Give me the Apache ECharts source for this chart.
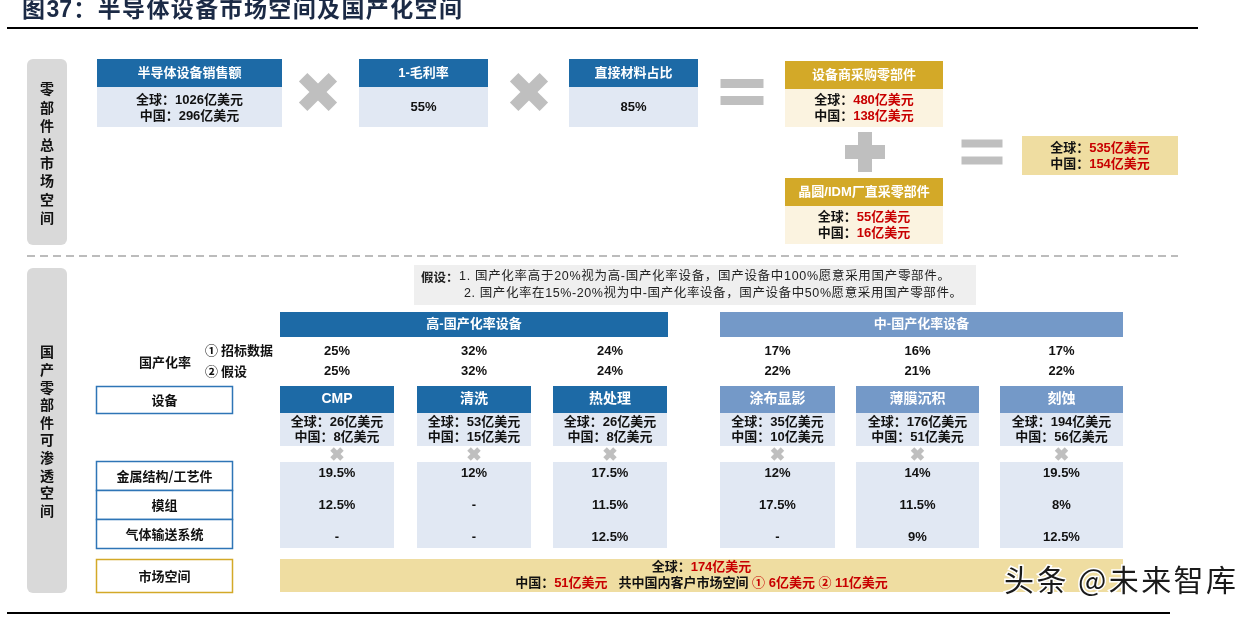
<!DOCTYPE html>
<html><head><meta charset="utf-8">
<script src="https://cdn.jsdelivr.net/npm/echarts@6/dist/echarts.min.js"></script>
<style>html,body{margin:0;padding:0;background:#fff}#c{width:1254px;height:617px}</style>
</head><body><div id="c"></div>
<script>
// ---------- DATA ----------
const titleTokens = ['图', '37', '：', '半', '导', '体', '设', '备', '市', '场', '空', '间', '及', '国', '产', '化', '空', '间'];
const sideLabels = ['零部件总市场空间', '国产零部件可渗透空间'];
const inputTitles = ['半导体设备销售额', '1-毛利率', '直接材料占比'];
const salesGlobal = 1026, salesChina = 296;
const marginComplement = 55, materialShare = 85;
const partsTitles = ['设备商采购零部件', '晶圆/IDM厂直采零部件'];
const partsGlobal = [480, 55];
const partsChina = [138, 16];
const totalGlobal = 535, totalChina = 154;
const assumptionLines = ['1. 国产化率高于20%视为高-国产化率设备，国产设备中100%愿意采用国产零部件。',
                         '2. 国产化率在15%-20%视为中-国产化率设备，国产设备中50%愿意采用国产零部件。'];
const groupNames = ['高-国产化率设备', '中-国产化率设备'];
const equipment = ['CMP', '清洗', '热处理', '涂布显影', '薄膜沉积', '刻蚀'];
const equipGroup = [0, 0, 0, 1, 1, 1];
const equipGlobal = [26, 53, 26, 35, 176, 194];
const equipChina = [8, 15, 8, 10, 51, 56];
const rateBid = [25, 32, 24, 17, 16, 17];
const rateAssumed = [25, 32, 24, 22, 21, 22];
const partRows = ['金属结构/工艺件', '模组', '气体输送系统'];
const metalShare = [19.5, 12, 17.5, 12, 14, 19.5];
const moduleShare = [12.5, null, 11.5, 17.5, 11.5, 8];
const gasShare = [null, null, 12.5, null, 9, 12.5];
const marketGlobal = 174, marketChina = 51, domesticBid = 6, domesticAssumed = 11;
const watermarkTokens = ['头', '条', ' ', '@', '未', '来', '智', '库'];

// ---------- STYLE / LAYOUT ----------
const C = {
  blue: '#1D6AA6', midBlue: '#7499C8', lightBlue: '#E1E8F3', border: '#2E75B6',
  gold: '#D3A928', goldLight: '#FBF3E0', goldRes: '#EFDDA1', grey: '#BFBFBF',
  side: '#D9D9D9', red: '#C80000', ink: '#111111'
};
const NUMF = '"Liberation Sans", Arial, "Noto Sans CJK SC", sans-serif';
const CJKF = '"Noto Sans CJK SC", sans-serif';
const el = [];
const mctx = document.createElement('canvas').getContext('2d');
function rect(x, y, w, h, fill, stroke, lw, r) {
  el.push({type: 'rect', silent: true, shape: {x: x, y: y, width: w, height: h, r: r || 0},
    style: {fill: fill || 'none', stroke: stroke || null, lineWidth: lw || 0}});
}
function txt(x, y, text, o) {
  el.push({type: 'text', silent: true, x: x, y: y, style: Object.assign({
    text: text, fill: C.ink, fontSize: 13, fontWeight: 'bold', fontFamily: NUMF,
    align: 'center', verticalAlign: 'middle'}, o || {})});
}
// tokens spread evenly over a target width (letter-spaced like the source)
function spaced(x, y, tokens, targetW, o) {
  const size = o.fontSize, weight = o.fontWeight || 'normal', fam = o.fontFamily || NUMF;
  mctx.font = weight + ' ' + size + 'px ' + fam;
  const toks = typeof tokens === 'string' ? Array.from(tokens) : tokens;
  const ws = toks.map(c => mctx.measureText(c).width);
  const total = ws.reduce((a, b) => a + b, 0);
  const sp = (targetW - total) / (toks.length - 1);
  let cx = x;
  toks.forEach(function (c, i) {
    txt(cx, y, c, Object.assign({}, o, {align: 'left'}));
    cx += ws[i] + sp;
  });
}
function rich(x, y, text, o) {
  const base = {fontSize: 13, fontWeight: 'bold', fontFamily: NUMF};
  txt(x, y, text, Object.assign({rich: {
    k: Object.assign({fill: C.ink}, base),
    r: Object.assign({fill: C.red}, base)}}, o || {}));
}
function line(x1, y1, x2, y2, color, lw, dash) {
  el.push({type: 'line', silent: true, shape: {x1: x1, y1: y1, x2: x2, y2: y2},
    style: {stroke: color, lineWidth: lw, lineDash: dash || null}});
}
function cross(cx, cy, L, t) {
  [Math.PI / 4, -Math.PI / 4].forEach(function (a) {
    el.push({type: 'rect', silent: true, x: cx, y: cy, rotation: a,
      shape: {x: -L / 2, y: -t / 2, width: L, height: t}, style: {fill: C.grey}});
  });
}
function equals(cx, cy, w, t, gap) {
  rect(cx - w / 2, cy - gap / 2 - t, w, t, C.grey);
  rect(cx - w / 2, cy + gap / 2, w, t, C.grey);
}
function plus(cx, cy, L, t) {
  rect(cx - L / 2, cy - t / 2, L, t, C.grey);
  rect(cx - t / 2, cy - L / 2, t, L, C.grey);
}
const pct = v => (v === null ? '-' : v + '%');

// title + rules
spaced(22, 11, titleTokens, 440, {fontSize: 23, fontWeight: 'bold', fill: '#1B2A45', fontFamily: '"Liberation Sans","Noto Sans CJK SC",sans-serif'});
line(7, 28, 1198, 28, '#000', 2);
line(7, 613, 1170, 613, '#000', 2);
line(27, 256, 1178, 256, '#A6A6A6', 1.5, [8, 5]);

// side panels
const sidePanels = [{y: 59, h: 186, y0: 89, step: 18.4}, {y: 268, h: 325, y0: 352, step: 17.6}];
sidePanels.forEach(function (p, i) {
  rect(27, p.y, 40, p.h, C.side, null, 0, 6);
  Array.from(sideLabels[i]).forEach(function (ch, j) {
    txt(47, p.y0 + j * p.step, ch, {fontSize: 14, fontFamily: CJKF});
  });
});

// formula inputs
const inBoxes = [{x: 97, w: 185}, {x: 359, w: 129}, {x: 569, w: 129}];
const inBody = [[`全球：${salesGlobal}亿美元`, `中国：${salesChina}亿美元`], [`${marginComplement}%`], [`${materialShare}%`]];
inBoxes.forEach(function (b, i) {
  rect(b.x, 59, b.w, 28, C.blue);
  rect(b.x, 87, b.w, 40, C.lightBlue);
  txt(b.x + b.w / 2, 73, inputTitles[i], {fill: '#fff'});
  const lines = inBody[i];
  if (lines.length === 2) {
    txt(b.x + b.w / 2, 100, lines[0]);
    txt(b.x + b.w / 2, 116, lines[1]);
  } else {
    txt(b.x + b.w / 2, 107, lines[0]);
  }
});
cross(318, 92, 42, 12);
cross(529, 92, 42, 12);
equals(742, 92, 43, 9, 8);

// parts boxes
const partsY = [61, 178];
partsTitles.forEach(function (t, i) {
  const y = partsY[i];
  rect(785, y, 158, 28, C.gold);
  rect(785, y + 28, 158, 38, C.goldLight);
  txt(864, y + 14, t, {fill: '#fff'});
  rich(864, y + 39, `{k|全球：}{r|${partsGlobal[i]}亿美元}`);
  rich(864, y + 55, `{k|中国：}{r|${partsChina[i]}亿美元}`);
});
plus(865, 152, 40, 14);
equals(982, 152, 41, 8, 9);
rect(1022, 136, 156, 39, C.goldRes);
rich(1100, 148, `{k|全球：}{r|${totalGlobal}亿美元}`);
rich(1100, 164, `{k|中国：}{r|${totalChina}亿美元}`);

// assumptions
rect(414, 265, 562, 40, '#EFEFEF');
const asmFont = {fontSize: 12.5, fontWeight: 'normal', fill: '#222', fontFamily: '"Liberation Sans","Noto Sans CJK SC",sans-serif'};
txt(421, 277, '假设：', {align: 'left', fontSize: 12.5, fill: '#222', fontFamily: CJKF});
spaced(459, 277, assumptionLines[0], 491, asmFont);
spaced(464, 294, assumptionLines[1], 498, asmFont);

// table layout
const colX = [280, 417, 553, 720, 856, 1000];
const colW = [114, 114, 114, 115, 123, 123];
const groupSpan = [[280, 668], [720, 1123]];
const groupColor = [C.blue, C.midBlue];
groupNames.forEach(function (g, i) {
  const s = groupSpan[i];
  rect(s[0], 312, s[1] - s[0], 25, groupColor[i]);
  txt((s[0] + s[1]) / 2, 324.5, g, {fill: '#fff'});
});
txt(165, 362, '国产化率', {fontFamily: CJKF});
txt(205, 350, '① 招标数据', {align: 'left', fontFamily: CJKF});
txt(205, 371, '② 假设', {align: 'left', fontFamily: CJKF});

// label boxes
rect(96.5, 386.5, 136, 27, '#fff', C.border, 1.5);
txt(164.5, 400, '设备', {fontFamily: CJKF});
partRows.forEach(function (r, i) {
  const y = 461.5 + i * 29;
  rect(96.5, y, 136, 29, '#fff', C.border, 1.5);
  txt(164.5, y + 14.5, r, {fontFamily: CJKF});
});
rect(96.5, 559.5, 136, 33, '#fff', C.gold, 1.5);
txt(164.5, 576, '市场空间', {fontFamily: CJKF});

const shareRows = [metalShare, moduleShare, gasShare];
equipment.forEach(function (name, i) {
  const x = colX[i], w = colW[i], cx = x + w / 2;
  txt(cx, 351, pct(rateBid[i]));
  txt(cx, 371, pct(rateAssumed[i]));
  rect(x, 386, w, 27, groupColor[equipGroup[i]]);
  txt(cx, 399.5, name, {fill: '#fff', fontSize: 14});
  rect(x, 413, w, 33, C.lightBlue);
  txt(cx, 422, `全球：${equipGlobal[i]}亿美元`);
  txt(cx, 437, `中国：${equipChina[i]}亿美元`);
  cross(cx, 454, 14, 5);
  rect(x, 462, w, 86, C.lightBlue);
  shareRows.forEach(function (row, j) {
    txt(cx, 473 + j * 32, pct(row[i]));
  });
});

// market bar
rect(280, 559, 843, 33, C.goldRes);
rich(701.5, 567, `{k|全球：}{r|${marketGlobal}亿美元}`);
rich(701.5, 583, `{k|中国：}{r|${marketChina}亿美元}{k|   共中国内客户市场空间 }{r|① ${domesticBid}亿美元 ② ${domesticAssumed}亿美元}`);

// watermark
spaced(1004, 580, watermarkTokens, 232, {fontSize: 30, fontWeight: 'normal', fill: '#1a1a1a',
  stroke: '#fff', lineWidth: 3, fontFamily: CJKF});

const chart = echarts.init(document.getElementById('c'), null, {renderer: 'canvas'});
chart.setOption({backgroundColor: '#fff', animation: false, graphic: {elements: el}, series: []});
</script></body></html>
